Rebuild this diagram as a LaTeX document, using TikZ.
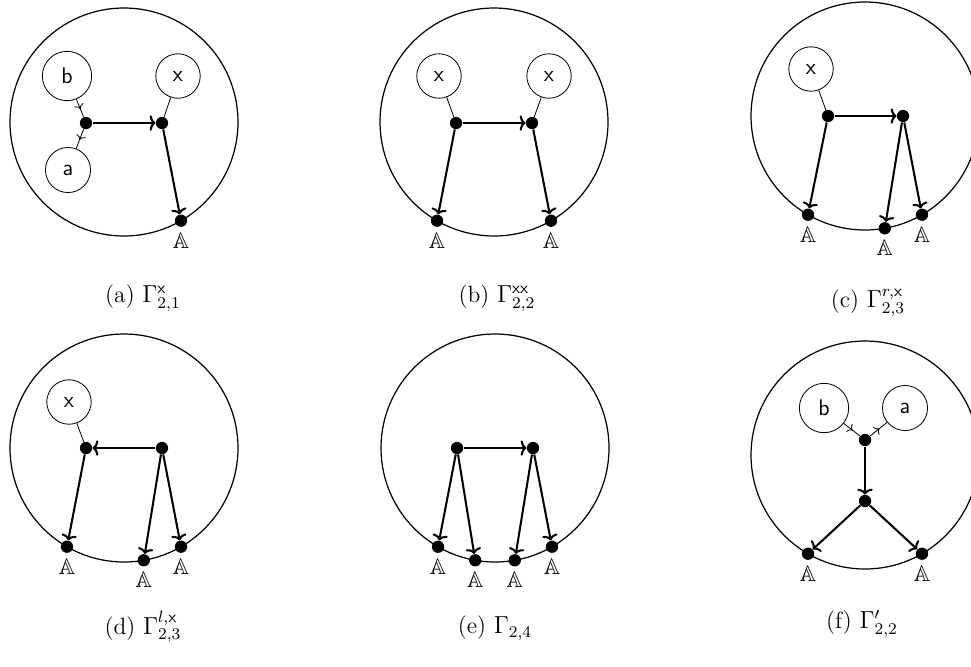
\documentclass[tikz,border=0pt]{standalone}
\usepackage{amssymb}
\usetikzlibrary{arrows.meta,decorations.markings}

\begin{document}
\begin{tikzpicture}[
  x=0.488pt,y=0.488pt,
  rim/.style={line width=0.6pt},
  vtx/.style={circle,fill,inner sep=0pt,minimum size=6pt},
  root/.style={vtx,label={[inner sep=2.5pt,font=\fontsize{11}{13}\selectfont]below:$\mathbb{A}$}},
  leg/.style={circle,draw,line width=0.4pt,inner sep=5.2pt,
              font=\sffamily\fontsize{11}{13}\selectfont},
  wire/.style={line width=0.4pt},
  link/.style={line width=1pt,-{To[length=2.8pt,width=7.5pt]}},
  flow/.style={wire,decoration={markings,
               mark=at position 0.55 with {\arrow{To[length=2.2pt,width=4.8pt]}}},
               postaction={decorate}},
  capt/.style={inner sep=0pt,font=\fontsize{11.5}{14}\selectfont}
]
\useasboundingbox (0,-666) rectangle (971,0);
\clip (0,-666) rectangle (971,0);

% (a)
\begin{scope}[shift={(124,-122)}]
\draw[rim] (0,0) circle[radius=114];
\node[leg] (a-b) at (-57,46) {b};
\node[leg] (a-x) at (54,46) {x};
\node[leg] (a-a) at (-56,-48) {a};
\node[vtx] (a-1) at (-38,-1) {};
\node[vtx] (a-2) at (38,-1) {};
\node[root] (a-3) at (-60:114) {};
\draw[flow] (a-b) -- (a-1); \draw[flow] (a-1) -- (a-a);
\draw[wire] (a-x) -- (a-2);
\draw[link] (a-1) -- (a-2); \draw[link] (a-2) -- (a-3);
\end{scope}

% (b)
\begin{scope}[shift={(494,-122)}]
\draw[rim] (0,0) circle[radius=114];
\node[leg] (b-x) at (-55,46) {x};
\node[leg] (b-y) at (55,46) {x};
\node[vtx] (b-1) at (-38,-1) {};
\node[vtx] (b-2) at (38,-1) {};
\node[root] (b-3) at (-120:114) {};
\node[root] (b-4) at (-60:114) {};
\draw[wire] (b-x) -- (b-1); \draw[wire] (b-y) -- (b-2);
\draw[link] (b-1) -- (b-2); \draw[link] (b-1) -- (b-3);
\draw[link] (b-2) -- (b-4);
\end{scope}

% (c)
\begin{scope}[shift={(865,-116)}]
\draw[rim] (0,0) circle[radius=114];
\node[leg] (c-x) at (-54,47) {x};
\node[vtx] (c-1) at (-37,0) {};
\node[vtx] (c-2) at (38,0) {};
\node[root] (c-3) at (-120:114) {};
\node[root] (c-4) at (-80:114) {};
\node[root] (c-5) at (-60:114) {};
\draw[wire] (c-x) -- (c-1);
\draw[link] (c-1) -- (c-2); \draw[link] (c-1) -- (c-3);
\draw[link] (c-2) -- (c-4); \draw[link] (c-2) -- (c-5);
\end{scope}

% (d)
\begin{scope}[shift={(124,-448)}]
\draw[rim] (0,0) circle[radius=114];
\node[leg] (d-x) at (-55,46) {x};
\node[vtx] (d-1) at (-38,0) {};
\node[vtx] (d-2) at (38,0) {};
\node[root] (d-3) at (-120:114) {};
\node[root] (d-4) at (-80:114) {};
\node[root] (d-5) at (-60:114) {};
\draw[wire] (d-x) -- (d-1);
\draw[link] (d-2) -- (d-1); \draw[link] (d-1) -- (d-3);
\draw[link] (d-2) -- (d-4); \draw[link] (d-2) -- (d-5);
\end{scope}

% (e)
\begin{scope}[shift={(495,-448)}]
\draw[rim] (0,0) circle[radius=114];
\node[vtx] (e-1) at (-38,0) {};
\node[vtx] (e-2) at (38,0) {};
\node[root] (e-3) at (-120:114) {};
\node[root] (e-4) at (-100:114) {};
\node[root] (e-5) at (-80:114) {};
\node[root] (e-6) at (-60:114) {};
\draw[link] (e-1) -- (e-2);
\draw[link] (e-1) -- (e-3); \draw[link] (e-1) -- (e-4);
\draw[link] (e-2) -- (e-5); \draw[link] (e-2) -- (e-6);
\end{scope}

% (f)
\begin{scope}[shift={(865,-455)}]
\draw[rim] (0,0) circle[radius=114];
\node[leg] (f-b) at (-41,47) {b};
\node[leg] (f-a) at (40,47) {a};
\node[vtx] (f-1) at (0,15) {};
\node[vtx] (f-2) at (0,-46) {};
\node[root] (f-3) at (-120:114) {};
\node[root] (f-4) at (-60:114) {};
\draw[flow] (f-b) -- (f-1); \draw[flow] (f-1) -- (f-a);
\draw[link] (f-1) -- (f-2);
\draw[link] (f-2) -- (f-3); \draw[link] (f-2) -- (f-4);
\end{scope}

% captions
\node[capt] (cap-a) at (143,-298) {(a) $\Gamma^{\mathsf{x}}_{2,1}$};
\node[capt] (cap-b) at (497,-298) {(b) $\Gamma^{\mathsf{xx}}_{2,2}$};
\node[capt] (cap-c) at (868,-303) {(c) $\Gamma^{r,\mathsf{x}}_{2,3}$};
\node[capt] (cap-d) at (143,-627) {(d) $\Gamma^{l,\mathsf{x}}_{2,3}$};
\node[capt] (cap-e) at (495,-628) {(e) $\Gamma_{2,4}$};
\node[capt] (cap-f) at (862,-624) {(f) $\Gamma'_{2,2}$};
\end{tikzpicture}
\end{document}
